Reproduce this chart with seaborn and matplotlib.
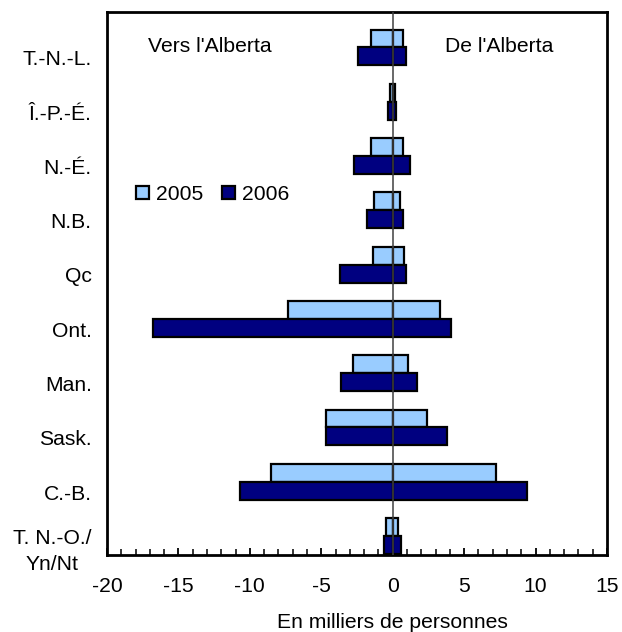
import numpy as np
import pandas as pd
import matplotlib
matplotlib.use("Agg")
import matplotlib.pyplot as plt
from matplotlib.patches import Patch
from matplotlib.ticker import MultipleLocator
import seaborn as sns

provinces = ["T.-N.-L.", "Î.-P.-É.", "N.-É.", "N.B.", "Qc", "Ont.", "Man.",
             "Sask.", "C.-B.", "T. N.-O./\nYn/Nt"]
years = ["2005", "2006"]
# Migration toward Alberta (shown negative) and from Alberta (positive), thousands
vers_2005 = [-1.5, -0.2, -1.5, -1.3, -1.4, -7.3, -2.8, -4.7, -8.5, -0.5]
vers_2006 = [-2.4, -0.3, -2.7, -1.8, -3.7, -16.8, -3.6, -4.7, -10.7, -0.6]
de_2005 = [0.7, 0.15, 0.7, 0.5, 0.8, 3.3, 1.1, 2.4, 7.2, 0.35]
de_2006 = [0.9, 0.25, 1.2, 0.7, 0.9, 4.1, 1.7, 3.8, 9.4, 0.6]
xticks = [-20, -15, -10, -5, 0, 5, 10, 15]
colors = {"2005": "#99CCFF", "2006": "#000080"}

rows = []
for i, p in enumerate(provinces):
    rows.append((p, "2005", "vers", vers_2005[i]))
    rows.append((p, "2006", "vers", vers_2006[i]))
    rows.append((p, "2005", "de", de_2005[i]))
    rows.append((p, "2006", "de", de_2006[i]))
df = pd.DataFrame(rows, columns=["prov", "year", "dir", "value"])

sns.set_theme(style="white")
plt.rcParams["font.family"] = ["Liberation Sans", "DejaVu Sans"]
plt.rcParams["axes.unicode_minus"] = False
plt.rcParams["text.color"] = "black"
plt.rcParams["axes.labelcolor"] = "black"
fs = 15.2

fig = plt.figure(figsize=(6.22, 6.32), dpi=100)
ax = fig.add_axes([107/622, 1-555/632, 500/622, 543/632])

for d in ["vers", "de"]:
    sns.barplot(data=df[df["dir"] == d], y="prov", x="value", hue="year",
                order=provinces, hue_order=years, palette=colors,
                saturation=1, orient="h", width=0.66, edgecolor="black",
                linewidth=1.6, legend=False, ax=ax, zorder=2)

ax.axvline(0, color="#404040", lw=1.1, zorder=5)
ax.set_xlim(-20, 15)
ax.set_ylim(9.35, -0.654)

ax.set_xticks(xticks)
ax.set_xticklabels([str(t) for t in xticks], fontsize=fs)
ax.xaxis.set_minor_locator(MultipleLocator(1))
ax.tick_params(axis="x", which="major", direction="in", length=5, width=1.3,
               pad=16, colors="black", bottom=True)
ax.tick_params(axis="x", which="minor", direction="in", length=4, width=1.3,
               bottom=True)

ax.set_yticks(np.arange(len(provinces)) + 0.19)
ax.set_yticklabels(provinces, fontsize=fs)
ax.tick_params(axis="y", length=0, pad=11, colors="black")
for lab in ax.get_yticklabels():
    lab.set_multialignment("center")
    lab.set_linespacing(1.45)

ax.set_ylabel("")
ax.set_xlabel("En milliers de personnes", fontsize=fs, color="black")
ax.xaxis.set_label_coords(20/35, -0.106)

for s in ax.spines.values():
    s.set_visible(True)
    s.set_color("black")
    s.set_linewidth(2)

ax.text(0.082, 0.937, "Vers l'Alberta", transform=ax.transAxes,
        fontsize=fs, ha="left", va="center")
ax.text(0.676, 0.937, "De l'Alberta", transform=ax.transAxes,
        fontsize=fs, ha="left", va="center")

handles = [Patch(facecolor=colors[y], edgecolor="black", linewidth=1.6) for y in years]
ax.legend(handles, years, loc="center left", bbox_to_anchor=(0.058, 0.664),
          frameon=False, ncol=2, fontsize=fs, handlelength=0.6,
          handleheight=0.6, handletextpad=0.35, columnspacing=0.9,
          borderpad=0, borderaxespad=0)

fig.savefig("out.png", dpi=100)
